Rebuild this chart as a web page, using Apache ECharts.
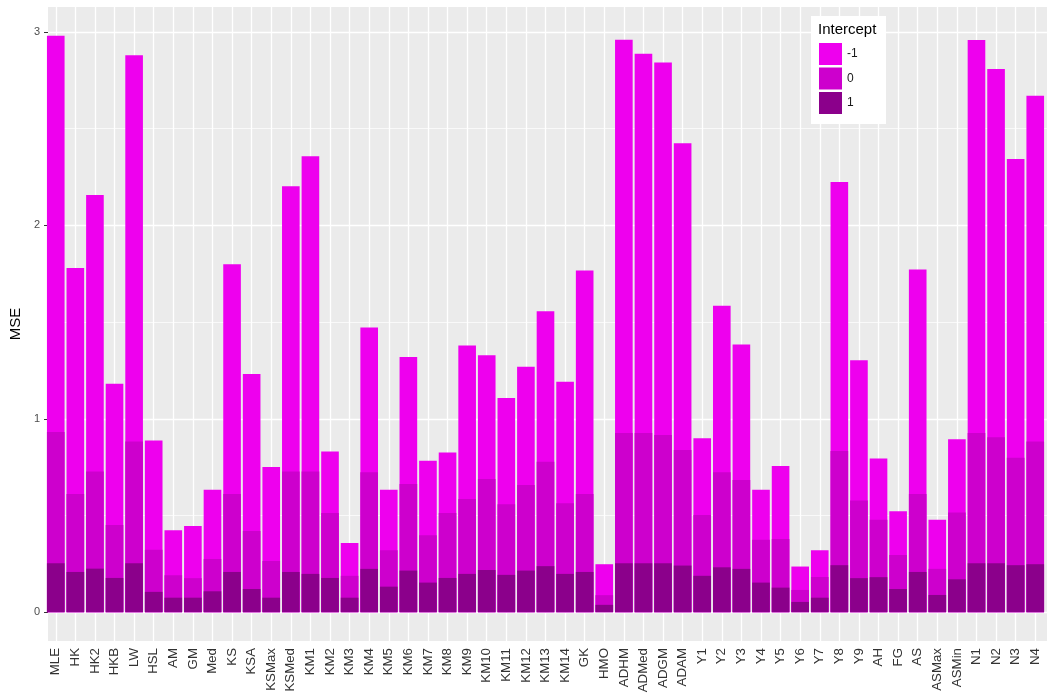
<!DOCTYPE html>
<html>
<head>
<meta charset="utf-8">
<title>MSE by estimator and intercept</title>
<script src="https://cdn.jsdelivr.net/npm/echarts@6/dist/echarts.min.js"></script>
<style>
  html, body { margin: 0; padding: 0; background: #ffffff; }
  #chart { width: 1050px; height: 696px; }
</style>
</head>
<body>
<div id="chart"></div>
<script>
// Estimators along the x axis
const estimators = ['MLE','HK','HK2','HKB','LW','HSL','AM','GM','Med','KS','KSA','KSMax','KSMed',
  'KM1','KM2','KM3','KM4','KM5','KM6','KM7','KM8','KM9','KM10','KM11','KM12','KM13','KM14',
  'GK','HMO','ADHM','ADMed','ADGM','ADAM','Y1','Y2','Y3','Y4','Y5','Y6','Y7','Y8','Y9',
  'AH','FG','AS','ASMax','ASMin','N1','N2','N3','N4'];

// Intercept levels shown in the legend
const interceptLevels = ['-1', '0', '1'];

// MSE for intercept = -1
const mseInterceptNeg1 = [2.98,1.78,2.157,1.181,2.88,0.888,0.423,0.446,0.633,1.799,1.231,0.751,2.202,
  2.357,0.831,0.358,1.472,0.633,1.319,0.783,0.826,1.379,1.329,1.108,1.269,1.556,1.191,
  1.766,0.248,2.96,2.887,2.842,2.425,0.899,1.584,1.384,0.633,0.756,0.236,0.32,2.224,1.302,
  0.795,0.522,1.772,0.478,0.894,2.958,2.808,2.343,2.67];

// MSE for intercept = 0
const mseIntercept0 = [0.931,0.611,0.728,0.451,0.883,0.323,0.191,0.176,0.275,0.611,0.42,0.265,0.728,
  0.728,0.513,0.188,0.723,0.32,0.663,0.398,0.513,0.585,0.689,0.558,0.658,0.778,0.563,
  0.611,0.088,0.926,0.926,0.916,0.838,0.503,0.723,0.683,0.375,0.379,0.115,0.182,0.833,0.578,
  0.478,0.296,0.611,0.224,0.516,0.926,0.904,0.799,0.883];

// MSE for intercept = 1
const mseIntercept1 = [0.253,0.208,0.225,0.177,0.253,0.105,0.075,0.075,0.108,0.208,0.12,0.075,0.208,
  0.198,0.177,0.075,0.224,0.132,0.215,0.153,0.177,0.198,0.218,0.193,0.215,0.238,0.198,
  0.208,0.038,0.253,0.253,0.253,0.241,0.188,0.232,0.224,0.153,0.127,0.053,0.075,0.243,0.176,
  0.181,0.12,0.208,0.089,0.17,0.253,0.253,0.243,0.248];

// Y axis tick labels and minor grid positions
const yTicks = [0, 1, 2, 3];
const yMinorTicks = [0.5, 1.5, 2.5];

const fillColors = ['#EE00EE', '#CD00CD', '#8B008B'];
const seriesValues = [mseInterceptNeg1, mseIntercept0, mseIntercept1];

// Plot panel geometry (ggplot-like expansion: 5% on y, 0.6 category on x)
const panel = { left: 44, top: 7, width: 1003, height: 634 };
const dataMax = Math.max(...mseInterceptNeg1, ...mseIntercept0, ...mseIntercept1);
const yPad = 0.05 * dataMax;
const yMin = -yPad, yMax = dataMax + yPad;
const unit = panel.width / (estimators.length + 0.2);
const barsLeft = panel.left + 0.1 * unit;
const barsWidth = estimators.length * unit;

const FONT = '"Liberation Sans", Arial, Helvetica, sans-serif';

const chart = echarts.init(document.getElementById('chart'), null, { renderer: 'canvas' });

// Overlapping bars: the tallest level first, smaller levels drawn over it
const barSeries = interceptLevels.map((lvl, i) => ({
  name: lvl,
  type: 'bar',
  xAxisIndex: 1,
  yAxisIndex: 1,
  data: seriesValues[i],
  barGap: '-100%',
  barCategoryGap: '10%',
  itemStyle: { color: fillColors[i] },
  z: 20 + i,
  silent: true
}));

const gridLineMark = (data, extra) => Object.assign({
  silent: true, z: 1, symbol: ['none', 'none'], label: { show: false }, animation: false, data
}, extra || {});

const option = {
  animation: false,
  backgroundColor: '#ffffff',
  textStyle: { fontFamily: FONT },
  grid: [
    { left: panel.left, top: panel.top, width: panel.width, height: panel.height,
      show: true, backgroundColor: '#EBEBEB', borderWidth: 0, containLabel: false, z: 0 },
    { left: barsLeft, top: panel.top, width: barsWidth, height: panel.height,
      show: false, containLabel: false }
  ],
  xAxis: [
    { type: 'value', gridIndex: 0, min: 0, max: 1, show: false },
    { type: 'category', gridIndex: 1, data: estimators, boundaryGap: true,
      axisLine: { show: false },
      axisTick: { show: true, alignWithLabel: true, length: 4, lineStyle: { color: '#333333', width: 1 } },
      axisLabel: { rotate: 90, interval: 0, margin: 7, fontSize: 13.3, color: '#333333', fontFamily: FONT },
      splitLine: { show: false } }
  ],
  yAxis: [
    { type: 'value', gridIndex: 0, min: yMin, max: yMax,
      name: 'MSE', nameLocation: 'middle', nameRotate: 90, nameGap: 21,
      nameTextStyle: { fontSize: 15, color: '#000000', fontFamily: FONT },
      axisLine: { show: false },
      axisTick: { show: true, customValues: yTicks, length: 4, lineStyle: { color: '#333333', width: 1 } },
      axisLabel: { customValues: yTicks, margin: 8, fontSize: 11, color: '#4D4D4D', fontFamily: FONT },
      splitLine: { show: false } },
    { type: 'value', gridIndex: 1, min: yMin, max: yMax, show: false, splitLine: { show: false } }
  ],
  legend: {
    data: interceptLevels,
    orient: 'vertical',
    left: 819,
    top: 43,
    padding: 0,
    z: 60,
    itemWidth: 23,
    itemHeight: 22,
    itemGap: 2.5,
    icon: 'rect',
    selectedMode: false,
    textStyle: { fontSize: 12, color: '#1A1A1A', fontFamily: FONT }
  },
  graphic: [
    { type: 'rect', left: 811, top: 16, z: 50,
      shape: { width: 75, height: 108 }, style: { fill: '#ffffff' } },
    { type: 'text', left: 818, top: 22, z: 51,
      style: { text: 'Intercept', fontSize: 15, fill: '#000000', fontFamily: FONT } }
  ],
  series: [
    // horizontal grid lines across the full panel
    { type: 'line', xAxisIndex: 0, yAxisIndex: 0, data: [], silent: true, z: 1,
      markLine: gridLineMark([
        ...yTicks.map(v => ({ yAxis: v, lineStyle: { color: '#ffffff', width: 1.3, type: 'solid' } })),
        ...yMinorTicks.map(v => ({ yAxis: v, lineStyle: { color: '#ffffff', width: 0.7, type: 'solid' } }))
      ]) },
    // vertical grid lines at each estimator
    { type: 'line', xAxisIndex: 1, yAxisIndex: 1, data: [], silent: true, z: 1,
      markLine: gridLineMark(estimators.map(name => ({ xAxis: name })),
        { lineStyle: { color: '#ffffff', width: 1.3, type: 'solid' } }) },
    ...barSeries
  ]
};

chart.setOption(option);
</script>
</body>
</html>
